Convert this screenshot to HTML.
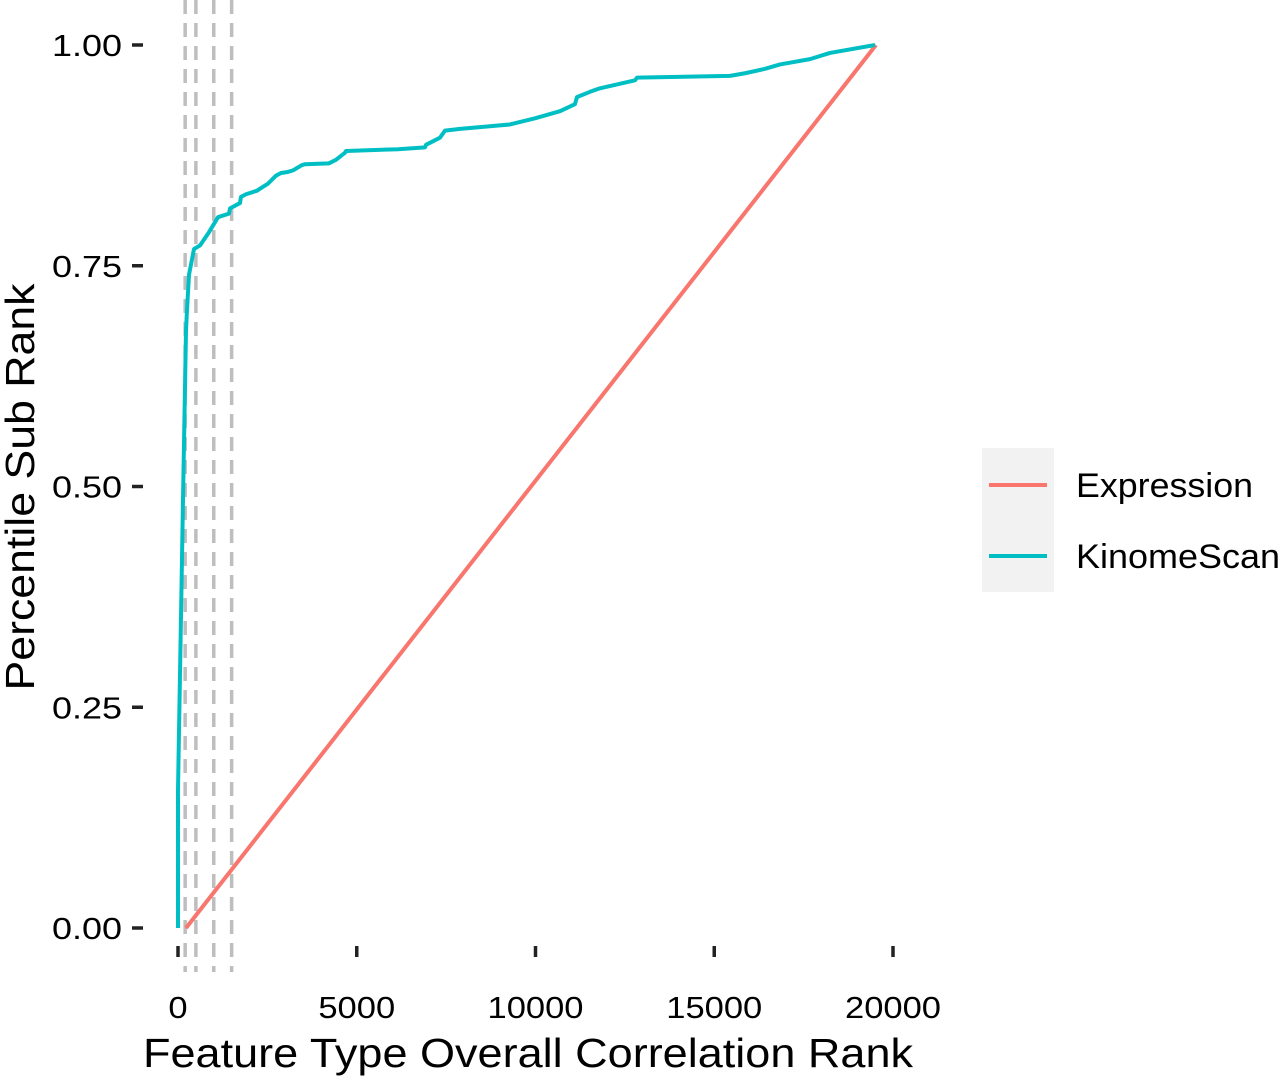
<!DOCTYPE html>
<html><head><meta charset="utf-8"><style>
body{margin:0;background:#fff;}
svg text{font-family:"Liberation Sans",Arial,sans-serif;fill:#000;}
</style></head><body>
<svg width="1280" height="1078" viewBox="0 0 1280 1078">
<g id="grid"></g>
<g id="series"></g>
<g id="axes"></g>
<text x="528" y="1067" font-size="41" text-anchor="middle" textLength="770" lengthAdjust="spacingAndGlyphs">Feature Type Overall Correlation Rank</text>
<text transform="translate(34,487) rotate(-90)" font-size="41" text-anchor="middle" textLength="407" lengthAdjust="spacingAndGlyphs">Percentile Sub Rank</text>
<g>
<rect x="982" y="448" width="72" height="144" fill="#f2f2f2"/>
<line x1="989" y1="485" x2="1047" y2="485" stroke="#F8766D" stroke-width="4"/>
<line x1="989" y1="556" x2="1047" y2="556" stroke="#00BFC4" stroke-width="4"/>
<text x="1076" y="497" font-size="34" textLength="177" lengthAdjust="spacingAndGlyphs">Expression</text>
<text x="1076" y="568" font-size="34" textLength="204" lengthAdjust="spacingAndGlyphs">KinomeScan</text>
</g>
</svg>
<script>
const xTicks=[0,5000,10000,15000,20000];
const yTicks=[0,0.25,0.5,0.75,1.0];
const yTickLabels=["0.00","0.25","0.50","0.75","1.00"];
const thresholds=[200,500,1000,1500];
const exprRank=[224,19524];
const exprPct=[0,1];
const kinRank=[0,0,140,224,252,308,448,615,867,1119,1427,1455,1734,1762,1902,2210,2322,2517,2741,2881,3049,3217,3468,3552,4224,4419,4671,4699,6153,6909,6937,7328,7468,7889,8447,9286,9985,10685,11104,11160,11524,11804,12783,12839,15440,15860,16419,16839,17678,18237,19496];
const kinPct=[0,0.156,0.485,0.677,0.70,0.740,0.769,0.773,0.788,0.805,0.809,0.815,0.821,0.828,0.831,0.835,0.838,0.843,0.852,0.855,0.856,0.858,0.864,0.865,0.866,0.870,0.878,0.880,0.882,0.884,0.887,0.895,0.903,0.905,0.907,0.910,0.917,0.925,0.933,0.941,0.947,0.951,0.960,0.963,0.965,0.968,0.973,0.978,0.984,0.991,1.0];
const X=v=>178+v*0.03575, Y=v=>928-v*883;
const NS="http://www.w3.org/2000/svg";
function mk(tag,attrs,parent){const e=document.createElementNS(NS,tag);for(const k in attrs)e.setAttribute(k,attrs[k]);parent.appendChild(e);return e;}
const grid=document.getElementById('grid'),series=document.getElementById('series'),axes=document.getElementById('axes');
thresholds.forEach(t=>{const l=mk('line',{x1:X(t),x2:X(t),y1:0,y2:972,stroke:'#bebebe','stroke-width':3.5,'stroke-dasharray':'14,9'},grid);

});
const pe=mk('polyline',{points:exprRank.map((r,i)=>X(r)+','+Y(exprPct[i])).join(' '),fill:'none',stroke:'#F8766D','stroke-width':4},series);


const pk=mk('polyline',{points:kinRank.map((r,i)=>X(r)+','+Y(kinPct[i])).join(' '),fill:'none',stroke:'#00BFC4','stroke-width':4,'stroke-linejoin':'round'},series);


xTicks.forEach(t=>{const l=mk('line',{x1:X(t),x2:X(t),y1:946,y2:957,stroke:'#222','stroke-width':3.5},axes);


const s=String(t);
const tx=mk('text',{x:X(t),y:1018,'font-size':31,'text-anchor':'middle',textLength:s.length*19.2,lengthAdjust:'spacingAndGlyphs'},axes);tx.textContent=s;

});
yTicks.forEach((t,i)=>{const l=mk('line',{x1:132,x2:143,y1:Y(t),y2:Y(t),stroke:'#222','stroke-width':3.5},axes);


const tx=mk('text',{x:122,y:Y(t)+11,'font-size':31,'text-anchor':'end',textLength:70,lengthAdjust:'spacingAndGlyphs'},axes);tx.textContent=yTickLabels[i];

});
</script>
</body></html>
